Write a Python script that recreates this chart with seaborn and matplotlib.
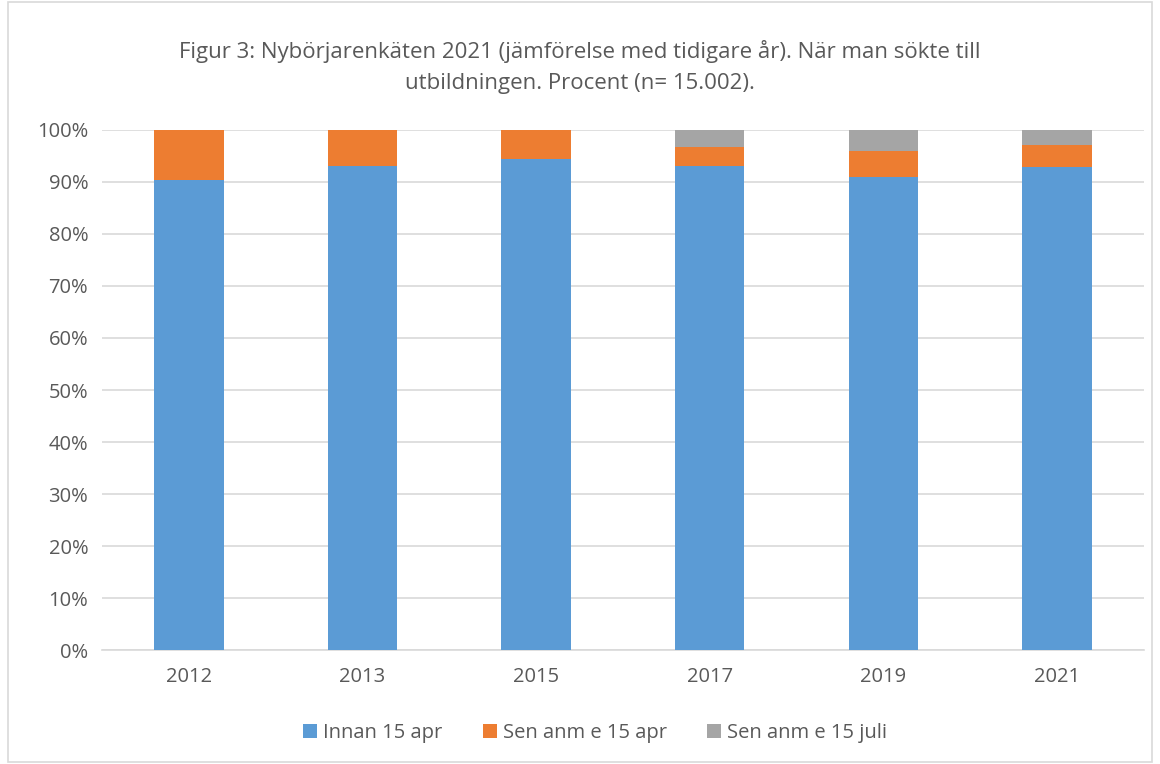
import matplotlib

matplotlib.use("Agg")

import matplotlib.pyplot as plt
import pandas as pd
import seaborn as sns
from matplotlib.patches import Patch, Rectangle
from matplotlib.ticker import FuncFormatter

YEARS = ["2012", "2013", "2015", "2017", "2019", "2021"]
INNAN_15_APR = [90.4, 93.1, 94.4, 93.1, 91.0, 92.9]
SEN_15_APR = [9.6, 6.9, 5.6, 3.6, 5.0, 4.2]
SEN_15_JULI = [0.0, 0.0, 0.0, 3.3, 4.0, 2.9]

SERIES = ["Innan 15 apr", "Sen anm e 15 apr", "Sen anm e 15 juli"]
COLORS = ["#5b9bd5", "#ed7d31", "#a5a5a5"]
TEXT = "#595959"
TITLE = "Figur 3: Nybörjarenkäten 2021 (jämförelse med tidigare år). När man sökte till\nutbildningen. Procent (n= 15.002)."


def main() -> None:
    sns.set_theme(style="white")
    plt.rcParams["font.family"] = ["Open Sans", "DejaVu Sans"]

    df = pd.DataFrame(
        {"year": YEARS, "a": INNAN_15_APR, "b": SEN_15_APR, "c": SEN_15_JULI}
    )
    df["cum_b"] = df["a"] + df["b"]
    df["cum_c"] = df["cum_b"] + df["c"]

    fig = plt.figure(figsize=(11.6, 7.64), dpi=100)
    ax = fig.add_axes([0.088, 0.149, 0.898, 0.681])

    # layered cumulative bars, tallest first
    for col, color in [("cum_c", COLORS[2]), ("cum_b", COLORS[1]), ("a", COLORS[0])]:
        sns.barplot(data=df, x="year", y=col, color=color, width=0.4,
                    saturation=1, order=YEARS, ax=ax, zorder=3, linewidth=0)

    ax.set_ylim(0, 100)
    ax.set_yticks(range(0, 101, 10))
    ax.yaxis.set_major_formatter(FuncFormatter(lambda v, _: f"{v:.0f}%"))
    ax.grid(axis="y", color="#d9d9d9", linewidth=1.2, zorder=0)
    ax.set_axisbelow(True)
    ax.set_xlabel("")
    ax.set_ylabel("")
    for side in ["top", "right", "left"]:
        ax.spines[side].set_visible(False)
    ax.spines["bottom"].set_color("#d9d9d9")
    ax.spines["bottom"].set_linewidth(1.2)
    ax.tick_params(axis="both", length=0, labelsize=14.5, colors=TEXT)
    ax.tick_params(axis="y", pad=10)
    ax.tick_params(axis="x", pad=12)

    fig.text(0.5, 0.912, TITLE, ha="center", va="center", fontsize=16,
             color=TEXT, linespacing=1.6)

    handles = [Patch(facecolor=c, edgecolor="none") for c in COLORS]
    fig.legend(handles, SERIES, loc="center", bbox_to_anchor=(0.513, 0.041),
               ncol=3, frameon=False, fontsize=14.5, labelcolor=TEXT,
               handlelength=0.7, handleheight=0.7, handletextpad=0.3,
               columnspacing=2.0)

    fig.patches.append(Rectangle((8 / 1160, 2 / 764), 1 - 16 / 1160, 1 - 4 / 764,
                                 transform=fig.transFigure, fill=False,
                                 edgecolor="#d9d9d9", linewidth=1.2))

    fig.savefig("out.png", dpi=100, facecolor="white")
    plt.close(fig)


if __name__ == "__main__":
    main()
